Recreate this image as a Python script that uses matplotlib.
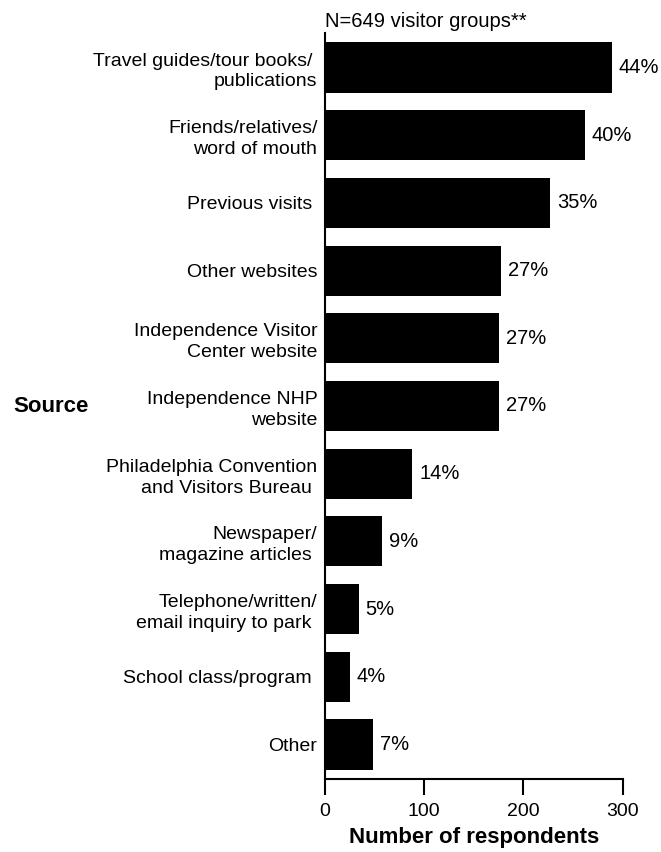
import numpy as np
import matplotlib
matplotlib.use('Agg')
import matplotlib.pyplot as plt

plt.rcParams['font.family'] = ['Liberation Sans', 'DejaVu Sans']

# --- data ---
sources = [
    'Travel guides/tour books/ \npublications',
    'Friends/relatives/\nword of mouth',
    'Previous visits ',
    'Other websites',
    'Independence Visitor\nCenter website',
    'Independence NHP\nwebsite',
    'Philadelphia Convention\nand Visitors Bureau ',
    'Newspaper/\nmagazine articles ',
    'Telephone/written/\nemail inquiry to park ',
    'School class/program ',
    'Other',
]
counts = [289, 262, 227, 177, 175, 175, 88, 57, 34, 25, 48]
pct_labels = ['44%', '40%', '35%', '27%', '27%', '27%', '14%', '9%', '5%', '4%', '7%']
x_ticks = [0, 100, 200, 300]

fig = plt.figure(figsize=(6.61, 8.52), dpi=100)
ax = fig.add_axes([325 / 661, 1 - 779 / 852, (622.7 - 325) / 661, (779 - 33) / 852])

y = np.arange(len(sources))
bars = ax.barh(y, counts, height=0.74, color='black')

for b, lab in zip(bars, pct_labels):
    ax.annotate(lab, (b.get_width(), b.get_y() + b.get_height() / 2),
                xytext=(5, 0), textcoords='offset points',
                va='center', ha='left', fontsize=14.5)

ax.set_ylim(len(sources) - 0.49, -0.51)
ax.set_xlim(0, 300)
ax.set_yticks(y)
ax.set_yticklabels(sources, fontsize=14, ha='right', multialignment='right',
                   linespacing=1.3)
ax.tick_params(axis='y', length=0, pad=5.5)
ax.set_xticks(x_ticks)
ax.tick_params(axis='x', length=11.5, width=1.5, labelsize=14, pad=6)

for side in ['top', 'right']:
    ax.spines[side].set_visible(False)
ax.spines['left'].set_linewidth(1.5)
ax.spines['bottom'].set_linewidth(1.5)

ax.set_xlabel('Number of respondents', fontsize=16, fontweight='bold', labelpad=5)
ax.set_ylabel('Source', fontsize=16, fontweight='bold', rotation=0, ha='left', va='center')
ax.yaxis.set_label_coords(-1.048, 0.5)

ax.set_title('N=649 visitor groups**', loc='left', fontsize=14.5, pad=4)

fig.savefig('out.png', dpi=100)
